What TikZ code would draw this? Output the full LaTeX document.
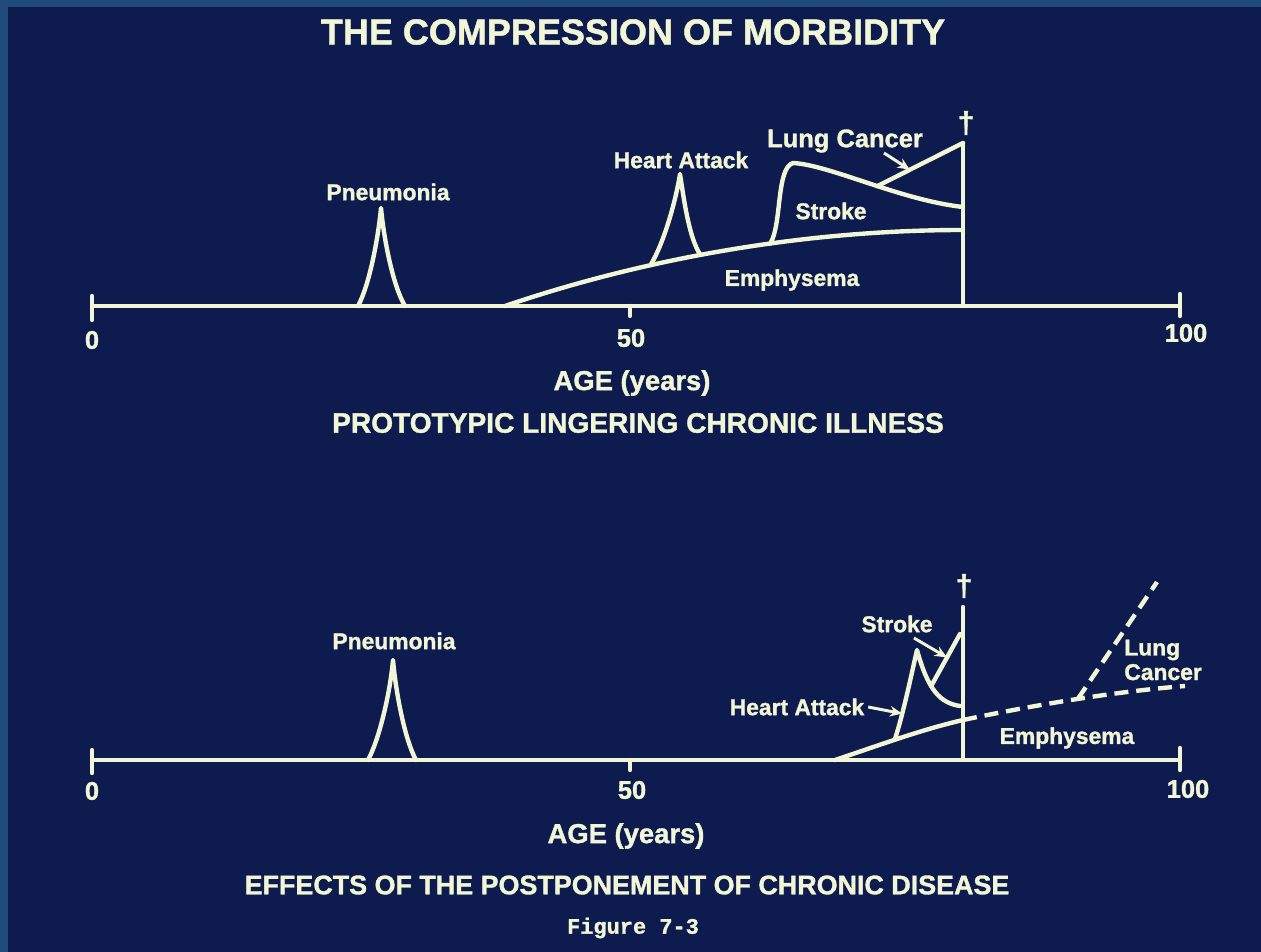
\documentclass[tikz,border=0pt]{standalone}
\usepackage{fontspec}
\setmainfont{Liberation Sans}[BoldFeatures={FakeBold=1.3}]
\setmonofont{Liberation Mono}[BoldFeatures={FakeBold=1.3}]
\usepackage{tikz}
\usetikzlibrary{arrows.meta}
\usepackage{xcolor}
\definecolor{slidenavy}{RGB}{13,27,78}
\definecolor{slideedge}{RGB}{31,74,124}
\definecolor{chalk}    {RGB}{240,246,214}
\tikzset{
  trace/.style={draw=chalk, line width=2.5pt, line join=round, line cap=round},
  dashtrace/.style={trace, line cap=butt, dash pattern=on 8pt off 4.5pt},
  pointer/.style={draw=chalk, line width=1.7pt, -{Stealth[length=7pt,width=6pt]}},
  lbl/.style={text=chalk, inner sep=0pt, font=\bfseries\fontsize{13}{14}\selectfont},
  axnum/.style={lbl, font=\bfseries\fontsize{14.5}{15}\selectfont},
  heading/.style={lbl, font=\bfseries\fontsize{15.6}{17}\selectfont},
  deathmark/.style={lbl, font=\bfseries\fontsize{17}{17}\selectfont}
}
\begin{document}
\begin{tikzpicture}[x=0.02cm, y=-0.02cm]
    \fill[slidenavy] (0,0) rectangle (1261,952);
    \fill[slideedge] (0,0) rectangle (1261,7);
    \fill[slideedge] (0,0) rectangle (8,952);
    \useasboundingbox (0,0) rectangle (1261,952);

    \node[lbl, font=\bfseries\fontsize{20.5}{22}\selectfont] (title) at (633,32)
      {THE COMPRESSION OF MORBIDITY};

    % upper panel
    \coordinate (ua0)   at (92,306);
    \coordinate (ua50)  at (630,306);
    \coordinate (uaD)   at (963,306);
    \coordinate (ua100) at (1180,306);
    \draw[trace] (ua0) -- (ua100);
    \draw[trace] (ua0) ++(0,-10) -- ++(0,24);
    \draw[trace] (ua50) -- ++(0,10);
    \draw[trace] (ua100) ++(0,-12) -- ++(0,22);
    \node[axnum] (un0)   at (92,340)   {0};
    \node[axnum] (un50)  at (631,338)  {50};
    \node[axnum] (un100) at (1186,333) {100};
    \node[heading] (uage) at (632,383) {AGE (years)};
    \node[heading, font=\bfseries\fontsize{16}{17}\selectfont] (usub) at (638,423)
      {PROTOTYPIC LINGERING CHRONIC ILLNESS};

    \coordinate (upnL) at (358,306);
    \coordinate (upnP) at (381,208);
    \coordinate (upnR) at (405,306);
    \draw[trace] (upnL) .. controls (369,286) and (378,240) .. (upnP)
                        .. controls (384,240) and (393,286) .. (upnR);
    \node[lbl] (upnT) at (388,192) {Pneumonia};

    \coordinate (ue0) at (505,306);
    \coordinate (ue1) at (963,230);
    \draw[trace] (ue0) .. controls (640,260) and (800,230) .. (ue1)
      coordinate[pos=0.34] (uhaL) coordinate[pos=0.45] (uhaR) coordinate[pos=0.6] (ustA);
    \node[lbl] (ueT) at (792,280) {Emphysema};

    \coordinate (uhaP) at (680,174);
    \draw[trace] (uhaL) .. controls (664,243) and (676,200) .. (uhaP)
                        .. controls (684,200) and (689,238) .. (uhaR);
    \node[lbl] (uhaT) at (681,160) {Heart Attack};

    \coordinate (ustP) at (793,163);
    \coordinate (ust1) at (963,207);
    \draw[trace] (ustA) .. controls (782,225) and (776,168) .. (ustP)
                        .. controls (830,165) and (900,200) .. (ust1) coordinate[pos=0.55] (ulcA);
    \node[lbl] (ustT) at (831,211) {Stroke};

    \coordinate (ulc1) at (963,143);
    \draw[trace] (ulcA) -- (ulc1) coordinate[pos=0.38] (ulcH);
    \draw[trace] (ulc1) -- (uaD);
    \node[deathmark] (udag) at (966,123) {†};
    \node[lbl, font=\bfseries\fontsize{14.5}{15}\selectfont] (ulcT) at (845,141) {Lung Cancer};
    \coordinate (ulcS) at (884,153);
    \draw[pointer] (ulcS) -- (ulcH);

    % lower panel
    \coordinate (la0)   at (92,760);
    \coordinate (la50)  at (630,760);
    \coordinate (laD)   at (963,760);
    \coordinate (la100) at (1180,760);
    \draw[trace] (la0) -- (la100);
    \draw[trace] (la0) ++(0,-10) -- ++(0,23);
    \draw[trace] (la50) -- ++(0,10);
    \draw[trace] (la100) ++(0,-12) -- ++(0,22);
    \node[axnum] (ln0)   at (92,791)   {0};
    \node[axnum] (ln50)  at (632,790)  {50};
    \node[axnum] (ln100) at (1188,789) {100};
    \node[heading] (lage) at (626,836) {AGE (years)};
    \node[heading, font=\bfseries\fontsize{15.3}{17}\selectfont] (lsub) at (627,885)
      {EFFECTS OF THE POSTPONEMENT OF CHRONIC DISEASE};
    \node[lbl, font=\ttfamily\bfseries\fontsize{12.5}{13}\selectfont] (lfig) at (633,928) {Figure 7-3};

    \coordinate (lpnL) at (368,760);
    \coordinate (lpnP) at (393,660);
    \coordinate (lpnR) at (416,760);
    \draw[trace] (lpnL) .. controls (379,740) and (390,694) .. (lpnP)
                        .. controls (396,694) and (405,740) .. (lpnR);
    \node[lbl] (lpnT) at (394,641) {Pneumonia};

    \coordinate (le0) at (835,760);
    \coordinate (le1) at (963,720);
    \coordinate (le2) at (1185,686);
    \draw[trace] (le0) .. controls (880,745) and (920,730) .. (le1) coordinate[pos=0.46] (lhaA);
    \draw[dashtrace] (le1) .. controls (1030,706) and (1110,692) .. (le2) coordinate[pos=0.53] (llcA);
    \node[lbl] (leT) at (1067,738) {Emphysema};

    \coordinate (lhaP) at (917,650);
    \coordinate (lhaE) at (960,706);
    \draw[trace] (lhaA) .. controls (903,715) and (912,672) .. (lhaP) coordinate[pos=0.3] (lhaH)
                        .. controls (928,690) and (940,703) .. (lhaE) coordinate[pos=0.4] (lstA);
    \node[lbl] (lhaT) at (797,707) {Heart Attack};
    \draw[pointer] ([xshift=2pt]lhaT.east) -- (lhaH);

    \coordinate (lst1) at (960,634);
    \draw[trace] (lstA) -- (lst1) coordinate[pos=0.55] (lstH);
    \node[lbl] (lstT) at (897,624) {Stroke};
    \coordinate (lstS) at (914,638);
    \draw[pointer] (lstS) -- (lstH);

    \coordinate (ld1) at (963,607);
    \draw[trace] (ld1) -- (laD);
    \node[deathmark] (ldag) at (964,586) {†};

    \coordinate (llc1) at (1157,582);
    \draw[dashtrace] (llcA) -- (llc1);
    \node[lbl, anchor=west, align=left] (llcT) at (1124,660) {Lung\\Cancer};
  \end{tikzpicture}
\end{document}
